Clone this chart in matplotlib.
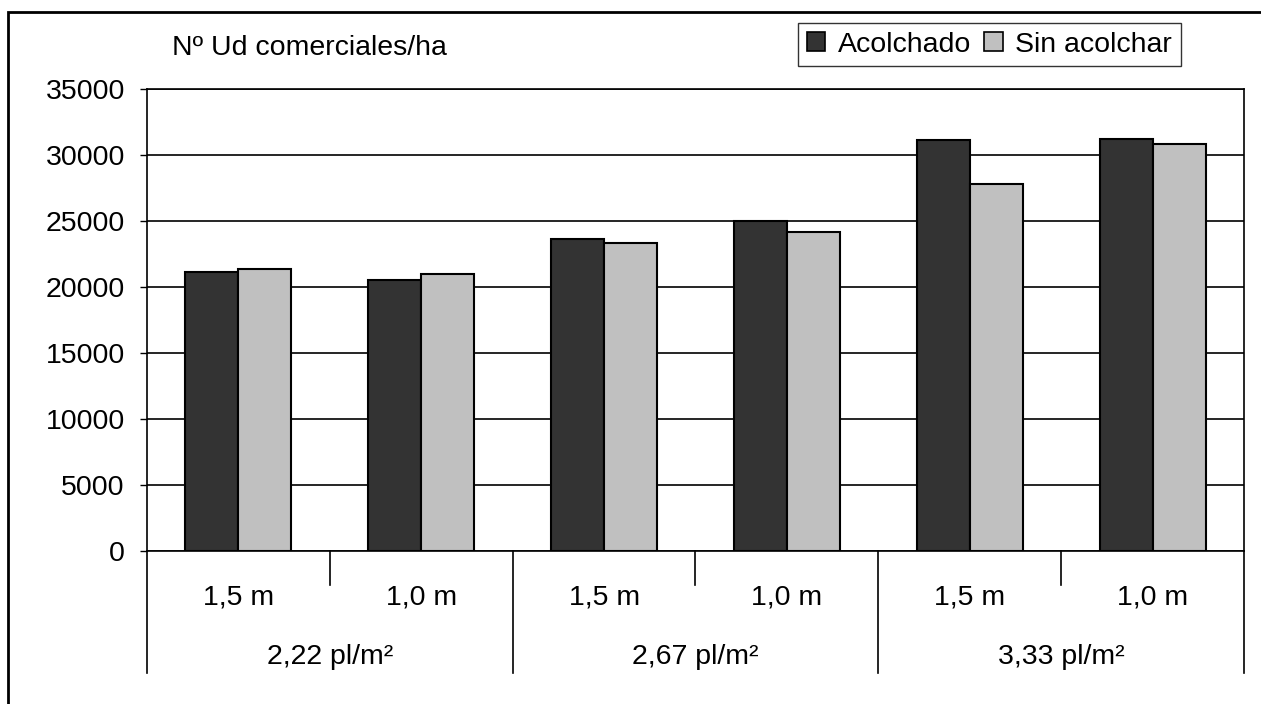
import matplotlib
matplotlib.use("Agg")
import matplotlib.pyplot as plt
from matplotlib.patches import Rectangle, Patch
import matplotlib.transforms as mtransforms
import numpy as np

plt.rcParams['font.family'] = ['Liberation Sans', 'DejaVu Sans']

sub_labels = ["1,5 m", "1,0 m", "1,5 m", "1,0 m", "1,5 m", "1,0 m"]
group_labels = ["2,22 pl/m²", "2,67 pl/m²", "3,33 pl/m²"]
acolchado = [21100, 20500, 23600, 25000, 31100, 31250]
sin_acolchar = [21400, 20950, 23350, 24200, 27800, 30800]
series_names = ["Acolchado", "Sin acolchar"]
yticks = [0, 5000, 10000, 15000, 20000, 25000, 30000, 35000]

W, H = 1261, 704
fig = plt.figure(figsize=(W / 100, H / 100), dpi=100)
L, R, T, B = 147, 1244, 89, 551
ax = fig.add_axes([L / W, (H - B) / H, (R - L) / W, (B - T) / H])

FS = 20.5
dark, light = "#333333", "#C0C0C0"
x = np.arange(len(sub_labels))
bw = 0.29
ax.bar(x - bw / 2, acolchado, bw, color=dark, edgecolor="black", linewidth=1.5, zorder=3)
ax.bar(x + bw / 2, sin_acolchar, bw, color=light, edgecolor="black", linewidth=1.5, zorder=3)

ax.set_xlim(-0.5, len(sub_labels) - 0.5)
ax.set_ylim(0, 35000)
ax.set_yticks(yticks)
ax.set_yticklabels([str(v) for v in yticks], fontsize=FS)
ax.tick_params(axis="y", length=5, width=1, pad=11, direction="out")
ax.set_xticks([])
for v in yticks:
    ax.axhline(v, color="black", linewidth=1.2, zorder=1)
for s in ["left", "right", "bottom", "top"]:
    ax.spines[s].set_color("black")
    ax.spines[s].set_linewidth(1.2)

trans = mtransforms.blended_transform_factory(ax.transData, ax.transAxes)
h = B - T
y_short = -(585 - B) / h
y_long = -(673 - B) / h
y_sub = -(598 - B) / h
y_grp = -(657 - B) / h
for i in range(len(sub_labels) + 1):
    xb = i - 0.5
    yend = y_long if i % 2 == 0 else y_short
    ax.plot([xb, xb], [0, yend], color="black", linewidth=1.2, transform=trans, clip_on=False)
for i, lab in enumerate(sub_labels):
    ax.text(i, y_sub, lab, transform=trans, ha="center", va="center", fontsize=FS)
for g, lab in enumerate(group_labels):
    ax.text(2 * g + 0.5, y_grp, lab, transform=trans, ha="center", va="center", fontsize=FS)

fig.text(172 / W, 1 - 48 / H, "Nº Ud comerciales/ha", fontsize=FS, ha="left", va="center")

handles = [Patch(facecolor=dark, edgecolor="black", linewidth=1.2),
           Patch(facecolor=light, edgecolor="black", linewidth=1.2)]
leg = fig.legend(handles, series_names, loc="upper left",
                 bbox_to_anchor=(798 / W, 1 - 23 / H), ncol=2, fontsize=FS,
                 frameon=True, fancybox=False, borderaxespad=0,
                 handlelength=0.65, handleheight=0.65, handletextpad=0.45,
                 columnspacing=0.45, borderpad=0.3)
leg.get_frame().set_edgecolor("black")
leg.get_frame().set_linewidth(1.0)

frame = Rectangle((8 / W, -0.1), 1.2, 1 - 12 / H + 0.1, transform=fig.transFigure,
                  fill=False, edgecolor="black", linewidth=2, clip_on=False)
fig.patches.append(frame)

fig.savefig("out.png", dpi=100)
